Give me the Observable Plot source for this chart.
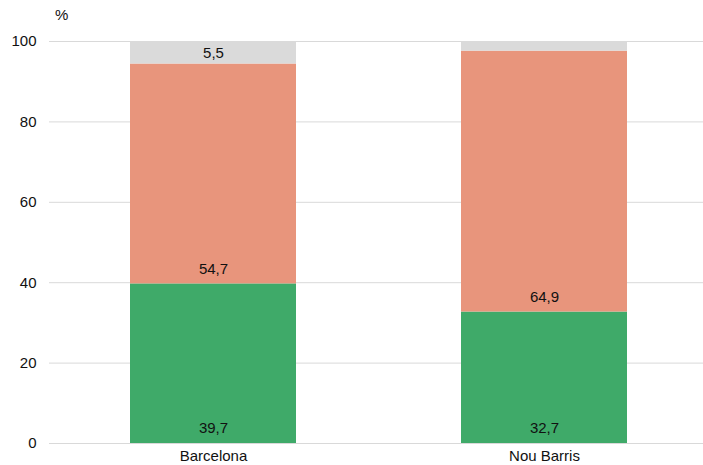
<!DOCTYPE html>
<html>
<head>
<meta charset="utf-8">
<script src="https://cdn.jsdelivr.net/npm/d3@7"></script>
<script src="https://cdn.jsdelivr.net/npm/@observablehq/plot@0.6"></script>
<style>
  html, body { margin: 0; padding: 0; background: #fff; }
  #chart { position: relative; width: 703px; height: 465px; }
  .unit { position: absolute; left: 55px; top: 6px; font: 15px "Liberation Sans", Arial, sans-serif; color: #111; }
</style>
</head>
<body>
<div id="chart"><div class="unit">%</div></div>
<script>
const categories = ["Barcelona", "Nou Barris"];
const seriesNames = ["Sèrie 1", "Sèrie 2", "Sèrie 3"];
const serie1 = [39.7, 32.7];
const serie2 = [54.7, 64.9];
const serie3 = [5.5, 2.4];
const seriesColors = ["#3faa69", "#e8957c", "#dadada"];
const yTicks = [0, 20, 40, 60, 80, 100];

const allSeries = [serie1, serie2, serie3];
const data = [];
seriesNames.forEach((s, si) => {
  categories.forEach((c, ci) => {
    data.push({category: c, series: s, value: allSeries[si][ci], idx: si});
  });
});
const fmt = v => v.toFixed(1).replace(".", ",");
const font = "Liberation Sans, Arial, sans-serif";

const plot = Plot.plot({
  width: 703,
  height: 465,
  marginLeft: 49,
  marginRight: -5,
  marginTop: 41,
  marginBottom: 22,
  style: {fontFamily: font, fontSize: "15px", color: "#111", background: "white"},
  x: {domain: categories, paddingInner: 0.5, paddingOuter: 0.245, label: null, tickSize: 0, tickPadding: 7},
  y: {domain: [0, 100], ticks: yTicks, label: null, tickSize: 0, tickPadding: 13},
  color: {domain: seriesNames, range: seriesColors},
  marks: [
    Plot.gridY(yTicks, {stroke: "#d9d9d9", strokeOpacity: 1, strokeWidth: 1}),
    Plot.barY(data, Plot.stackY({x: "category", y: "value", fill: "series", order: seriesNames})),
    Plot.text(data, Plot.stackY1({
      x: "category", y: "value", z: "series", order: seriesNames,
      text: d => d.idx < 2 ? fmt(d.value) : "",
      dy: -15, fill: "#111", fontSize: 15
    })),
    Plot.text(data, Plot.stackY({
      x: "category", y: "value", z: "series", order: seriesNames,
      text: d => d.idx === 2 && d.value >= 3 ? fmt(d.value) : "",
      dy: 0, fill: "#111", fontSize: 15
    }))
  ]
});
document.getElementById("chart").appendChild(plot);
</script>
</body>
</html>
